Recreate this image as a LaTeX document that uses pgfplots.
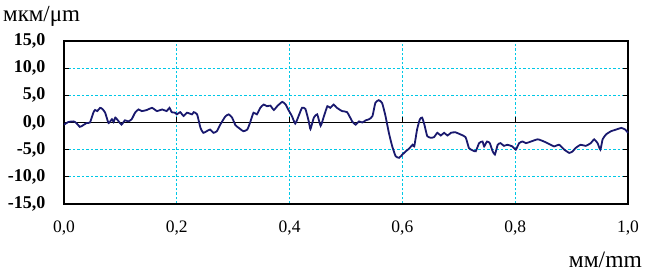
\documentclass[border=0pt]{standalone}
\usepackage{pgfplots}
\pgfplotsset{compat=1.18}
\usepackage{fontspec}
\setmainfont{Liberation Serif}
\definecolor{navy}{RGB}{25,25,110}
\definecolor{gridc}{RGB}{0,200,230}
\begin{document}
\begin{tikzpicture}[x=1pt,y=1pt]
\begin{axis}[name=ax,
  scale only axis, width=564pt, height=163pt,
  xmin=0, xmax=1, ymin=-15, ymax=15,
  xtick={0,0.2,0.4,0.6,0.8,1},
  xticklabels={{0,0},{0,2},{0,4},{0,6},{0,8},{1,0}},
  ytick={-15,-10,-5,0,5,10,15},
  yticklabels={{\textbf{-15,0}},{\textbf{-10,0}},{\textbf{-5,0}},{\textbf{0,0}},{\textbf{5,0}},{\textbf{10,0}},{\textbf{15,0}}},
  xmajorgrids, ymajorgrids,
  grid style={gridc, dash pattern=on 2.5pt off 2pt, line width=0.9pt},
  axis line style={black, line width=1.3pt},
  tick style={black, line width=0.8pt},
  x tick style={draw=none},
  tick align=inside, major tick length=5pt,
  yticklabel style={font=\fontsize{18}{19}\selectfont, xshift=-15pt},
  xticklabel style={font=\fontsize{17.5}{19}\selectfont, yshift=-13pt},
  clip=false,
]
\addplot[black, line width=1.3pt, forget plot] coordinates {(0,0) (1,0)};
\addplot[navy, line width=1.8pt, smooth, tension=0.3] coordinates {
(0.000,-0.4)(0.008,0.1)(0.017,0.2)(0.022,-0.1)(0.028,-0.8)(0.034,-0.5)(0.040,-0.1)(0.046,0.0)
(0.052,1.8)(0.055,2.3)(0.059,2.1)(0.064,2.7)(0.068,2.5)(0.073,1.8)(0.079,-0.1)(0.085,0.6)
(0.088,0.1)(0.091,0.9)(0.097,0.2)(0.102,-0.4)(0.108,0.4)(0.114,0.2)(0.120,0.6)(0.126,1.8)
(0.132,2.4)(0.138,2.1)(0.147,2.3)(0.156,2.7)(0.165,2.1)(0.174,2.4)(0.182,2.1)(0.187,2.7)
(0.191,1.9)(0.197,1.8)(0.200,1.5)(0.206,1.9)(0.212,1.2)(0.218,1.8)(0.227,1.5)(0.230,1.9)
(0.236,1.5)(0.242,-1.0)(0.247,-1.9)(0.253,-1.6)(0.259,-1.3)(0.265,-1.9)(0.271,-1.6)(0.277,-0.4)
(0.286,1.1)(0.292,1.5)(0.298,0.9)(0.304,-0.5)(0.310,-1.0)(0.318,-1.6)(0.325,-1.3)(0.330,0.0)
(0.336,1.8)(0.342,1.5)(0.348,2.7)(0.354,3.3)(0.360,3.0)(0.366,3.1)(0.372,2.3)(0.378,3.0)
(0.387,3.8)(0.393,3.3)(0.398,2.3)(0.404,1.2)(0.410,-0.2)(0.416,1.2)(0.422,2.7)(0.428,2.5)
(0.434,0.2)(0.437,-1.2)(0.443,0.9)(0.449,1.5)(0.455,-0.6)(0.461,1.2)(0.467,3.0)(0.472,2.7)
(0.478,3.3)(0.484,2.7)(0.493,2.1)(0.502,1.9)(0.511,0.2)(0.517,-0.4)(0.523,0.2)(0.529,0.0)
(0.535,0.4)(0.541,0.6)(0.547,1.2)(0.552,3.6)(0.558,4.1)(0.564,3.6)(0.570,1.2)(0.576,-1.9)
(0.582,-4.4)(0.588,-6.2)(0.594,-6.5)(0.600,-5.9)(0.606,-5.3)(0.612,-4.8)(0.618,-4.1)(0.621,-4.4)
(0.626,-1.3)(0.631,0.6)(0.635,0.9)(0.639,-0.4)(0.644,-2.5)(0.650,-2.8)(0.656,-2.7)(0.662,-1.9)
(0.668,-2.4)(0.674,-1.9)(0.680,-2.4)(0.686,-1.9)(0.694,-1.8)(0.703,-2.2)(0.712,-2.7)(0.718,-4.7)
(0.724,-5.1)(0.730,-5.3)(0.736,-3.8)(0.742,-3.5)(0.745,-4.4)(0.750,-3.5)(0.755,-3.8)(0.760,-5.3)
(0.764,-5.9)(0.769,-4.1)(0.774,-3.8)(0.780,-4.3)(0.786,-4.1)(0.795,-4.4)(0.801,-5.0)(0.807,-3.8)
(0.813,-3.5)(0.819,-3.8)(0.828,-3.5)(0.840,-3.1)(0.851,-3.5)(0.863,-4.1)(0.869,-4.4)(0.878,-4.1)
(0.887,-5.0)(0.896,-5.6)(0.902,-5.3)(0.907,-4.7)(0.916,-4.1)(0.925,-4.3)(0.934,-3.8)(0.940,-3.1)
(0.946,-3.8)(0.951,-5.0)(0.955,-3.1)(0.961,-2.2)(0.970,-1.6)(0.979,-1.3)(0.988,-1.0)(0.995,-1.3)
(1.000,-1.9)};
\draw[black, line width=0.8pt] (axis cs:0.2,0) -- ([yshift=5pt]axis cs:0.2,0);
\draw[black, line width=0.8pt] (axis cs:0.4,0) -- ([yshift=5pt]axis cs:0.4,0);
\draw[black, line width=0.8pt] (axis cs:0.6,0) -- ([yshift=5pt]axis cs:0.6,0);
\draw[black, line width=0.8pt] (axis cs:0.8,0) -- ([yshift=5pt]axis cs:0.8,0);
\node[anchor=base west, font=\fontsize{23}{25}\selectfont, inner sep=0pt]
  at ([xshift=-61pt, yshift=19pt]rel axis cs:0,1) {мкм/μm};
\node[anchor=base east, font=\fontsize{23.5}{25}\selectfont, inner sep=0pt]
  at ([xshift=14pt, yshift=-64pt]rel axis cs:1,0) {мм/mm};
\end{axis}
\path ([xshift=-64pt, yshift=-70pt]ax.south west) rectangle ([xshift=27pt, yshift=41pt]ax.north east);
\end{tikzpicture}
\end{document}
